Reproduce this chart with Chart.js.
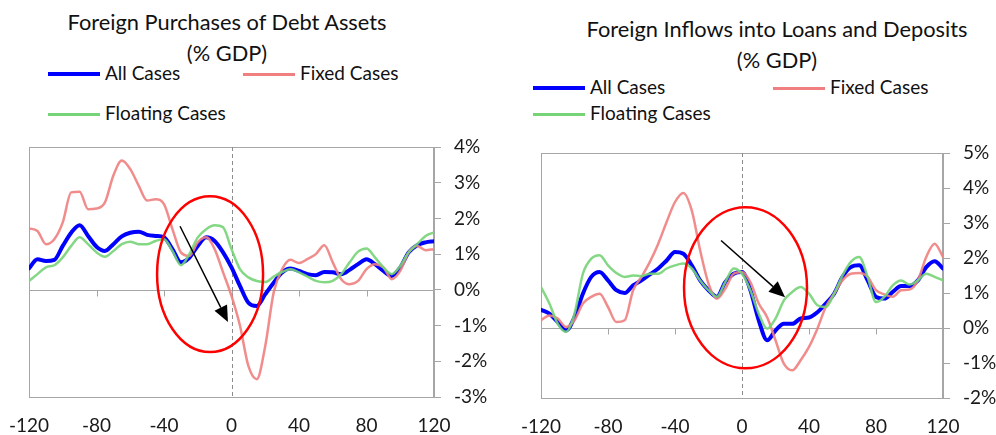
<!DOCTYPE html>
<html>
<head>
<meta charset="utf-8">
<script src="https://cdn.jsdelivr.net/npm/chart.js@4.4.1/dist/chart.umd.min.js"></script>
<style>
  body { margin: 0; background: #fff; width: 996px; height: 435px; position: relative; overflow: hidden; font-family: Lato, sans-serif; color: #111; }
  canvas { position: absolute; top: 0; }
  .title { position: absolute; text-align: center; font-size: 21.8px; line-height: 31px; }
  .key { position: absolute; font-size: 19px; line-height: 22px; white-space: nowrap; }
  .key i { display: inline-block; width: 52px; vertical-align: middle; margin-right: 5px; position: relative; top: -1px; }
</style>
</head>
<body>

<div class="title" style="left:0;width:454px;top:6px">Foreign Purchases of Debt Assets<br>(% GDP)</div>
<div class="key" style="left:48px;top:62px"><i style="height:4px;background:#0000ff"></i>All Cases</div>
<div class="key" style="left:243px;top:62px"><i style="height:3px;background:#f08080"></i>Fixed Cases</div>
<div class="key" style="left:48px;top:102px"><i style="height:3px;background:#77d377"></i>Floating Cases</div>

<div class="title" style="left:560px;width:434px;top:13px">Foreign Inflows into Loans and Deposits<br>(% GDP)</div>
<div class="key" style="left:533px;top:76px"><i style="height:4px;background:#0000ff"></i>All Cases</div>
<div class="key" style="left:773px;top:76px"><i style="height:3px;background:#f08080"></i>Fixed Cases</div>
<div class="key" style="left:533px;top:102px"><i style="height:3px;background:#77d377"></i>Floating Cases</div>

<canvas id="debt-chart" width="490" height="435" style="left:0"></canvas>
<canvas id="loans-chart" width="496" height="435" style="left:500px"></canvas>

<script>
// days around the event
const caseDays = [-120, -115, -110, -105, -100, -95, -90, -85, -80, -75, -70, -65, -60, -55, -50, -45, -40, -35, -30, -25, -20, -15, -10, -5,
    0, 5, 10, 15, 20, 25, 30, 35, 40, 45, 50, 55, 60, 65, 70, 75, 80, 85, 90, 95, 100, 105, 110, 115, 120];

// x tick labels
const dayTicks = [-120, -80, -40, 0, 40, 80, 120];

// debt assets (% gdp)
const debtAll = [0.60, 0.86, 0.81, 0.84, 1.23, 1.60, 1.81, 1.51, 1.21, 1.09, 1.28, 1.50, 1.60, 1.63, 1.54, 1.51, 1.47, 1.14, 0.77, 0.90, 1.23, 1.47, 1.37, 1.05,
    0.63, 0.11, -0.36, -0.45, -0.12, 0.20, 0.49, 0.60, 0.53, 0.44, 0.41, 0.50, 0.49, 0.44, 0.56, 0.72, 0.86, 0.72, 0.53, 0.39, 0.63, 1.05, 1.25, 1.33, 1.36];
const debtFixed = [1.72, 1.65, 1.28, 1.42, 1.89, 2.73, 2.75, 2.26, 2.28, 2.45, 3.20, 3.62, 3.38, 2.92, 2.50, 2.54, 2.40, 1.70, 1.05, 0.95, 1.33, 1.47, 1.14, 0.49,
    -0.17, -1.00, -2.13, -2.50, -1.57, -0.07, 0.58, 0.84, 0.75, 0.86, 1.00, 1.25, 0.77, 0.30, 0.16, 0.25, 0.58, 0.72, 0.63, 0.30, 0.53, 1.05, 1.23, 1.11, 1.14];
const debtFloating = [0.25, 0.44, 0.63, 0.69, 0.91, 1.23, 1.47, 1.28, 1.05, 0.93, 1.09, 1.28, 1.35, 1.28, 1.28, 1.37, 1.42, 1.09, 0.69, 1.00, 1.47, 1.70, 1.81, 1.75,
    1.14, 0.58, 0.35, 0.25, 0.22, 0.37, 0.50, 0.58, 0.49, 0.37, 0.25, 0.21, 0.25, 0.44, 0.77, 1.07, 1.16, 0.91, 0.63, 0.44, 0.67, 1.05, 1.28, 1.51, 1.61];
const debtTicks = [-3, -2, -1, 0, 1, 2, 3, 4];

// loans and deposits (% gdp)
const loansAll = [0.52, 0.41, 0.17, -0.07, 0.31, 0.98, 1.46, 1.60, 1.36, 1.08, 1.00, 1.22, 1.36, 1.53, 1.70, 1.93, 2.17, 2.12, 1.79, 1.36, 1.08, 0.89, 1.31, 1.55,
    1.60, 1.08, 0.22, -0.35, -0.07, 0.12, 0.12, 0.27, 0.30, 0.45, 0.70, 0.98, 1.46, 1.74, 1.79, 1.36, 0.89, 0.84, 1.03, 1.20, 1.20, 1.36, 1.74, 1.91, 1.70];
const loansFixed = [0.22, 0.36, 0.27, 0.03, 0.22, 0.70, 0.89, 0.98, 0.60, 0.17, 0.22, 1.08, 1.46, 1.89, 2.41, 3.03, 3.60, 3.86, 3.36, 2.22, 1.27, 0.84, 1.12, 1.55,
    1.60, 1.31, 0.70, 0.31, -0.35, -1.02, -1.21, -0.92, -0.54, -0.02, 0.60, 0.98, 1.36, 1.55, 1.57, 1.46, 1.08, 0.96, 0.89, 1.08, 1.10, 1.36, 2.03, 2.41, 2.03];
const loansFloating = [1.17, 0.70, 0.12, -0.11, 0.41, 1.55, 1.98, 2.08, 1.79, 1.57, 1.46, 1.50, 1.48, 1.55, 1.55, 1.70, 1.79, 1.84, 1.70, 1.36, 1.08, 0.89, 1.31, 1.70,
    1.55, 1.08, 0.41, -0.02, 0.27, 0.79, 1.03, 1.17, 0.98, 0.65, 0.60, 0.98, 1.50, 1.89, 2.03, 1.46, 0.74, 0.89, 1.22, 1.36, 1.24, 1.36, 1.55, 1.46, 1.36];
const loansTicks = [-2, -1, 0, 1, 2, 3, 4, 5];

// pair days with values for the linear x axis
function toPoints(values) {
    return caseDays.map((d, i) => ({ x: d, y: values[i] }));
}

// frame, zero line, dashed event line, then the red circle and arrow on top
const framePlugin = {
    id: 'frame',
    beforeDatasetsDraw(chart) {
        const { ctx, chartArea: a, scales: { x, y } } = chart;
        ctx.save();
        ctx.strokeStyle = '#a6a6a6';
        ctx.lineWidth = 1;
        ctx.strokeRect(a.left + 0.5, a.top + 0.5, a.width - 1, a.height);
        const y0 = Math.round(y.getPixelForValue(0)) + 0.5;
        ctx.beginPath();
        ctx.moveTo(a.left, y0);
        ctx.lineTo(a.right, y0);
        dayTicks.forEach(d => {
            const px = Math.round(x.getPixelForValue(d)) + 0.5;
            ctx.moveTo(px, y0);
            ctx.lineTo(px, y0 + 6);
        });
        ctx.stroke();
        // dashed line at day 0
        const x0 = Math.round(x.getPixelForValue(0)) + 0.5;
        ctx.strokeStyle = '#8c8c8c';
        ctx.setLineDash([4, 3]);
        ctx.beginPath();
        ctx.moveTo(x0, a.top);
        ctx.lineTo(x0, a.bottom);
        ctx.stroke();
        ctx.restore();
    },
    afterDatasetsDraw(chart, args, opts) {
        const { ctx, scales: { x, y } } = chart;
        ctx.save();
        // red circle
        const c = opts.circle;
        const cx = x.getPixelForValue(c.x), cy = y.getPixelForValue(c.y);
        const rx = Math.abs(x.getPixelForValue(c.x + c.rx) - cx);
        const ry = Math.abs(y.getPixelForValue(c.y + c.ry) - cy);
        ctx.strokeStyle = '#ff0000';
        ctx.lineWidth = 2.5;
        ctx.beginPath();
        ctx.ellipse(cx, cy, rx, ry, 0, 0, Math.PI * 2);
        ctx.stroke();
        // black arrow
        const ar = opts.arrow;
        const x1 = x.getPixelForValue(ar.x1), y1 = y.getPixelForValue(ar.y1);
        const x2 = x.getPixelForValue(ar.x2), y2 = y.getPixelForValue(ar.y2);
        const ang = Math.atan2(y2 - y1, x2 - x1);
        const head = 16, half = 7;
        const bx = x2 - head * Math.cos(ang), by = y2 - head * Math.sin(ang);
        ctx.strokeStyle = '#000';
        ctx.fillStyle = '#000';
        ctx.lineWidth = 1.5;
        ctx.beginPath();
        ctx.moveTo(x1, y1);
        ctx.lineTo(bx, by);
        ctx.stroke();
        ctx.beginPath();
        ctx.moveTo(x2, y2);
        ctx.lineTo(bx + half * Math.sin(ang), by - half * Math.cos(ang));
        ctx.lineTo(bx - half * Math.sin(ang), by + half * Math.cos(ang));
        ctx.closePath();
        ctx.fill();
        ctx.restore();
    }
};

function makeChart(id, all, fixed, floating, yTicks, box, marks) {
    const ctx = document.getElementById(id).getContext('2d');
    return new Chart(ctx, {
        type: 'line',
        data: {
            datasets: [
                { label: 'Floating Cases', data: toPoints(floating), borderColor: 'rgba(119, 211, 119, 0.9)', borderWidth: 2.5, order: 1 },
                { label: 'Fixed Cases', data: toPoints(fixed), borderColor: 'rgba(240, 128, 128, 0.9)', borderWidth: 2.5, order: 2 },
                { label: 'All Cases', data: toPoints(all), borderColor: '#0000ff', borderWidth: 4, order: 3 }
            ]
        },
        options: {
            responsive: false,
            animation: false,
            layout: { padding: { left: box.left, top: box.top, right: 0, bottom: 0 } },
            elements: {
                point: { radius: 0 },
                line: { tension: 0.4, cubicInterpolationMode: 'monotone', borderJoinStyle: 'round', borderCapStyle: 'round' }
            },
            scales: {
                x: {
                    type: 'linear',
                    min: -120,
                    max: 120,
                    afterBuildTicks: s => { s.ticks = dayTicks.map(v => ({ value: v })); },
                    // fixed height, and no extra room for the end labels
                    afterFit: s => { s.height = box.xHeight; s.paddingLeft = 0; s.paddingRight = 0; },
                    grid: { display: false, drawTicks: false },
                    border: { display: false },
                    ticks: { padding: 17, maxRotation: 0, color: '#1a1a1a', font: { family: 'Lato', size: 19 } }
                },
                y: {
                    position: 'right',
                    min: yTicks[0],
                    max: yTicks[yTicks.length - 1],
                    afterBuildTicks: s => { s.ticks = yTicks.map(v => ({ value: v })); },
                    afterFit: s => { s.width = box.yWidth; s.paddingTop = 0; s.paddingBottom = 0; },
                    grid: { drawOnChartArea: false, color: '#a6a6a6', tickLength: 7 },
                    border: { color: '#a6a6a6' },
                    ticks: { padding: 13, color: '#1a1a1a', font: { family: 'Lato', size: 19 }, callback: v => v + '%' }
                }
            },
            plugins: {
                legend: { display: false },
                tooltip: { enabled: false },
                frame: marks
            }
        },
        plugins: [framePlugin]
    });
}

// left chart
makeChart('debt-chart', debtAll, debtFixed, debtFloating, debtTicks,
    { left: 29, top: 147, yWidth: 56, xHeight: 38 },
    { circle: { x: -12.7, y: 0.44, rx: 31.4, ry: 2.18 }, arrow: { x1: -30.5, y1: 1.78, x2: -2.1, y2: -0.9 } });

// right chart
makeChart('loans-chart', loansAll, loansFixed, loansFloating, loansTicks,
    { left: 41, top: 153, yWidth: 53, xHeight: 37 },
    { circle: { x: 2.1, y: 1.15, rx: 36.7, ry: 2.3 }, arrow: { x1: -12.5, y1: 2.5, x2: 25.7, y2: 0.88 } });
</script>
</body>
</html>
